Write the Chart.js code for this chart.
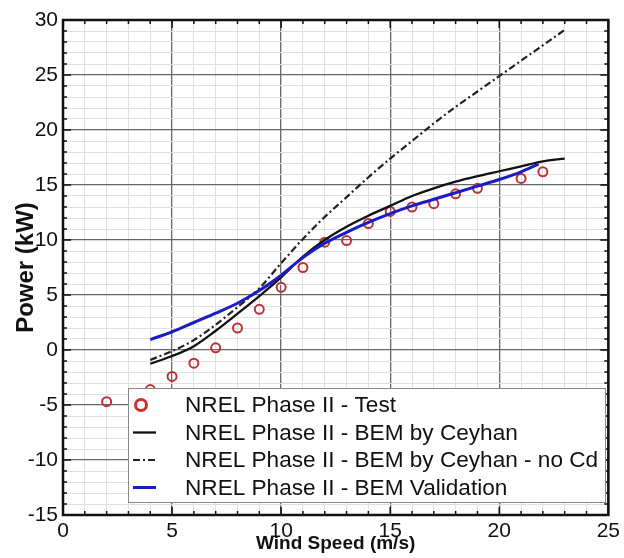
<!DOCTYPE html>
<html>
<head>
<meta charset="utf-8">
<script src="https://cdn.jsdelivr.net/npm/chart.js@4.4.0/dist/chart.umd.min.js"></script>
<style>
  body { margin: 0; background: #fff; }
</style>
</head>
<body>
<canvas id="powerChart" width="624" height="558"></canvas>
<script>
// NREL Phase II - Test (markers)
const testSpeed = [2, 4, 5, 6, 7, 8, 9, 10, 11, 12, 13, 14, 15, 16, 17, 18, 19, 21, 22];
const testPower = [-4.7, -3.6, -2.4, -1.2, 0.2, 2.0, 3.7, 5.7, 7.5, 9.8, 9.95, 11.5, 12.6, 13.0, 13.3, 14.2, 14.7, 15.6, 16.2];

// BEM by Ceyhan (solid black)
const ceyhanSpeed = [4, 5, 6, 7, 8, 9, 10, 11, 12, 13, 14, 15, 16, 17, 18, 19, 20, 21, 22, 23];
const ceyhanPower = [-1.25, -0.55, 0.35, 1.75, 3.3, 4.9, 6.6, 8.5, 10.0, 11.2, 12.2, 13.1, 14.0, 14.7, 15.3, 15.8, 16.25, 16.7, 17.15, 17.4];

// BEM by Ceyhan - no Cd (dash-dot)
const noCdSpeed = [4, 5, 6, 7, 8, 9, 10, 11, 12, 13, 14, 15, 16, 17, 18, 19, 20, 21, 22, 23];
const noCdPower = [-0.9, -0.1, 0.9, 2.3, 3.9, 5.6, 7.9, 10.1, 12.1, 13.9, 15.7, 17.4, 19.0, 20.6, 22.1, 23.5, 24.9, 26.3, 27.7, 29.1];

// BEM Validation (blue)
const validSpeed = [4, 5, 6, 7, 8, 9, 10, 11, 12, 13, 14, 15, 16, 17, 18, 19, 20, 21, 21.8];
const validPower = [0.95, 1.65, 2.5, 3.35, 4.25, 5.4, 6.8, 8.4, 9.7, 10.7, 11.6, 12.4, 13.1, 13.7, 14.3, 14.9, 15.5, 16.2, 16.9];

const xTicks = [0, 5, 10, 15, 20, 25];
const yTicks = [-15, -10, -5, 0, 5, 10, 15, 20, 25, 30];

const FONT = '"Liberation Sans", Arial, sans-serif';

function toPoints(xs, ys) {
    return xs.map((x, i) => ({ x: x, y: ys[i] }));
}

// frame + inward tick marks on all four sides
const framePlugin = {
    id: 'frame',
    beforeDatasetsDraw(chart) {
        const ctx = chart.ctx;
        const a = chart.chartArea;
        const xs = chart.scales.x, ys = chart.scales.y;
        ctx.save();
        ctx.strokeStyle = '#111';
        ctx.lineWidth = 1.5;
        ctx.beginPath();
        xs.ticks.forEach(t => {
            const px = xs.getPixelForValue(t.value);
            const len = t.value % 5 === 0 ? 8 : 4;
            ctx.moveTo(px, a.bottom); ctx.lineTo(px, a.bottom - len);
            ctx.moveTo(px, a.top); ctx.lineTo(px, a.top + len);
        });
        ys.ticks.forEach(t => {
            const py = ys.getPixelForValue(t.value);
            const len = t.value % 5 === 0 ? 8 : 4;
            ctx.moveTo(a.left, py); ctx.lineTo(a.left + len, py);
            ctx.moveTo(a.right, py); ctx.lineTo(a.right - len, py);
        });
        ctx.stroke();
        ctx.lineWidth = 2.5;
        ctx.strokeRect(a.left, a.top, a.right - a.left, a.bottom - a.top);
        ctx.restore();
    }
};

// boxed legend drawn inside the plot
const boxLegend = {
    id: 'boxLegend',
    afterDraw(chart) {
        const ctx = chart.ctx;
        const a = chart.chartArea;
        const bx = a.left + 65, by = a.bottom - 127, bw = 477, bh = 114;
        ctx.save();
        ctx.fillStyle = '#fff';
        ctx.fillRect(bx, by, bw, bh);
        ctx.strokeStyle = '#888';
        ctx.lineWidth = 1;
        ctx.strokeRect(bx + 0.5, by + 0.5, bw, bh);
        ctx.font = '22.6px ' + FONT;
        ctx.textBaseline = 'middle';
        chart.data.datasets.forEach((ds, i) => {
            const cy = by + 17 + i * 27.5;
            if (ds.showLine === false) {
                ctx.strokeStyle = '#d42a2a';
                ctx.lineWidth = 3;
                ctx.beginPath();
                ctx.arc(bx + 13, cy, 5.5, 0, Math.PI * 2);
                ctx.stroke();
            } else {
                ctx.strokeStyle = ds.borderColor;
                ctx.lineWidth = ds.borderWidth;
                ctx.setLineDash(ds.borderDash || []);
                ctx.beginPath();
                ctx.moveTo(bx + 5, cy); ctx.lineTo(bx + 28, cy);
                ctx.stroke();
                ctx.setLineDash([]);
            }
            ctx.fillStyle = '#111';
            ctx.fillText(ds.label, bx + 57, cy + 1);
        });
        ctx.restore();
    }
};

const ctx = document.getElementById('powerChart').getContext('2d');
const powerChart = new Chart(ctx, {
    type: 'scatter',
    data: {
        datasets: [
            {
                label: 'NREL Phase II - Test',
                data: toPoints(testSpeed, testPower),
                showLine: false,
                pointStyle: 'circle',
                pointRadius: 4.5,
                pointBorderWidth: 2,
                pointBorderColor: '#b8343a',
                pointBackgroundColor: 'rgba(0,0,0,0)',
                order: 4
            },
            {
                label: 'NREL Phase II - BEM by Ceyhan',
                data: toPoints(ceyhanSpeed, ceyhanPower),
                showLine: true,
                borderColor: '#111',
                borderWidth: 2.3,
                pointRadius: 0,
                cubicInterpolationMode: 'monotone',
                order: 3
            },
            {
                label: 'NREL Phase II - BEM by Ceyhan - no Cd',
                data: toPoints(noCdSpeed, noCdPower),
                showLine: true,
                borderColor: '#222',
                borderWidth: 2.2,
                borderDash: [7, 3, 2, 3],
                pointRadius: 0,
                cubicInterpolationMode: 'monotone',
                order: 2
            },
            {
                label: 'NREL Phase II - BEM Validation',
                data: toPoints(validSpeed, validPower),
                showLine: true,
                borderColor: '#1c1cc4',
                borderWidth: 3,
                pointRadius: 0,
                cubicInterpolationMode: 'monotone',
                order: 1
            }
        ]
    },
    options: {
        responsive: false,
        animation: false,
        layout: {
            padding: { top: 20, right: 11, left: 0, bottom: 3 }
        },
        plugins: {
            legend: { display: false },
            tooltip: { enabled: false }
        },
        scales: {
            x: {
                type: 'linear',
                min: xTicks[0],
                max: xTicks[xTicks.length - 1],
                afterFit: function (scale) { scale.height = 40; },
                ticks: {
                    stepSize: 1,
                    autoSkip: false,
                    maxRotation: 0,
                    padding: 4,
                    color: '#111',
                    font: { family: FONT, size: 21 },
                    callback: v => xTicks.includes(v) ? v : ''
                },
                grid: {
                    drawTicks: false,
                    color: c => c.tick && c.tick.value % 5 === 0 ? '#666' : '#e0e0e0',
                    lineWidth: c => c.tick && c.tick.value % 5 === 0 ? 1.3 : 1
                },
                border: { display: false },
                title: {
                    display: true,
                    text: 'Wind Speed (m/s)',
                    color: '#111',
                    padding: 0,
                    font: { family: FONT, size: 19, weight: 'bold' }
                }
            },
            y: {
                type: 'linear',
                min: yTicks[0],
                max: yTicks[yTicks.length - 1],
                afterFit: function (scale) { scale.width = 63; },
                ticks: {
                    stepSize: 1,
                    autoSkip: false,
                    padding: 5,
                    color: '#111',
                    font: { family: FONT, size: 21 },
                    callback: v => yTicks.includes(v) ? v : ''
                },
                grid: {
                    drawTicks: false,
                    color: c => c.tick && c.tick.value % 5 === 0 ? '#666' : '#e0e0e0',
                    lineWidth: c => c.tick && c.tick.value % 5 === 0 ? 1.3 : 1
                },
                border: { display: false },
                title: {
                    display: true,
                    text: 'Power (kW)',
                    color: '#111',
                    padding: { top: 12, bottom: 0 },
                    font: { family: FONT, size: 24, weight: 'bold' }
                }
            }
        }
    },
    plugins: [framePlugin, boxLegend]
});
</script>
</body>
</html>
